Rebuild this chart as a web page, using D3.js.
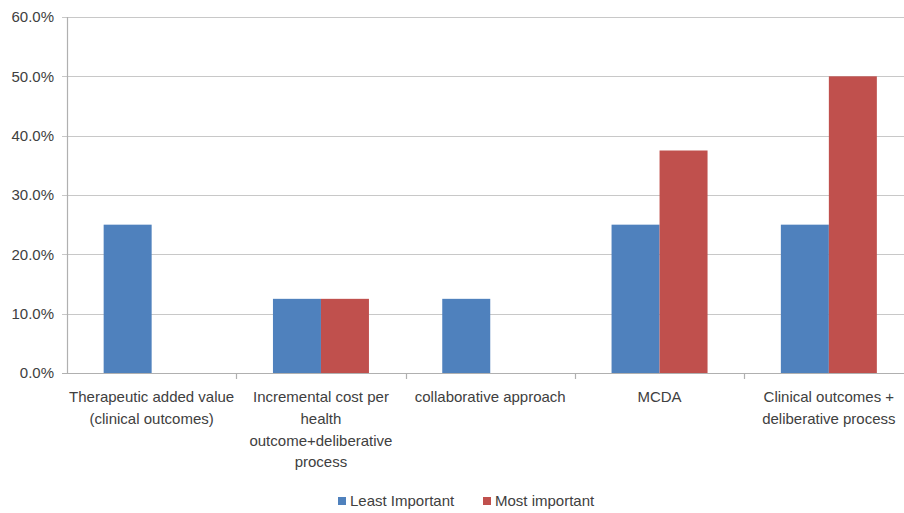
<!DOCTYPE html>
<html>
<head>
<meta charset="utf-8">
<script src="https://cdn.jsdelivr.net/npm/d3@7"></script>
<style>
  body { margin: 0; background: #fff; }
  svg { display: block; }
  text { font-family: "Liberation Sans", Arial, sans-serif; fill: #404040; }
</style>
</head>
<body>
<svg width="904" height="513"></svg>
<script>
// categories, split into the lines they wrap on
var categories = ["therapeutic", "incremental", "collaborative", "mcda", "clinical"];
var categoryLines = [
    ["Therapeutic added value", "(clinical outcomes)"],
    ["Incremental cost per", "health", "outcome+deliberative", "process"],
    ["collaborative approach"],
    ["MCDA"],
    ["Clinical outcomes +", "deliberative process"]
];
var seriesNames = ["Least Important", "Most important"];
var leastImportant = [25, 12.5, 12.5, 25, 25];
var mostImportant = [0, 12.5, 0, 37.5, 50];
var yTicks = [0, 10, 20, 30, 40, 50, 60];

function draw() {

    var colors = ["#4F81BD", "#C0504D"];

    var svg = d3.select("svg");
    var plotLeft = 67, plotRight = 913.5, plotTop = 17, plotBottom = 373;
    var fontSize = "15px";

    var x0 = d3.scaleBand().domain(categories).range([plotLeft, plotRight]).padding(0);
    var bw = x0.bandwidth();
    var gap = bw * 0.433;
    var x1 = d3.scaleBand().domain(seriesNames).range([gap / 2, bw - gap / 2]).padding(0);
    var y = d3.scaleLinear().domain([0, 60]).range([plotBottom, plotTop]);

    // gridlines
    svg.append("g")
        .selectAll("line")
        .data(yTicks)
        .enter().append("line")
        .attr("x1", plotLeft - 5)
        .attr("x2", plotRight)
        .attr("y1", function(d) { return Math.round(y(d)) + 0.5; })
        .attr("y2", function(d) { return Math.round(y(d)) + 0.5; })
        .attr("stroke", function(d) { return d === 0 ? "#b0b0b0" : "#c8c8c8"; })
        .attr("stroke-width", 1.2);

    // y labels
    svg.append("g")
        .selectAll("text")
        .data(yTicks)
        .enter().append("text")
        .attr("x", 54)
        .attr("y", function(d) { return y(d); })
        .attr("dy", "0.35em")
        .attr("text-anchor", "end")
        .style("font-size", fontSize)
        .text(function(d) { return d3.format(".1f")(d) + "%"; });

    // y axis line
    svg.append("line")
        .attr("x1", plotLeft + 0.5).attr("x2", plotLeft + 0.5)
        .attr("y1", plotTop).attr("y2", plotBottom + 1)
        .attr("stroke", "#b0b0b0").attr("stroke-width", 1.2);

    // category tick marks
    svg.append("g")
        .selectAll("line")
        .data(categories.slice(1))
        .enter().append("line")
        .attr("x1", function(d) { return Math.round(x0(d)) + 0.5; })
        .attr("x2", function(d) { return Math.round(x0(d)) + 0.5; })
        .attr("y1", plotBottom).attr("y2", plotBottom + 6)
        .attr("stroke", "#b0b0b0").attr("stroke-width", 1.2);

    // bars
    var rows = categories.map(function(c, i) {
        return { cat: c, values: [leastImportant[i], mostImportant[i]] };
    });

    var groups = svg.append("g")
        .selectAll("g")
        .data(rows)
        .enter().append("g")
        .attr("transform", function(d) { return "translate(" + x0(d.cat) + ",0)"; });

    groups.selectAll("rect")
        .data(function(d) {
            return d.values.map(function(v, i) { return { name: seriesNames[i], value: v, i: i }; });
        })
        .enter().append("rect")
        .attr("x", function(d) { return x1(d.name); })
        .attr("width", x1.bandwidth())
        .attr("y", function(d) { return y(d.value); })
        .attr("height", function(d) { return y(0) - y(d.value); })
        .attr("fill", function(d) { return colors[d.i]; });

    // x labels
    var labels = svg.append("g")
        .selectAll("text")
        .data(categories)
        .enter().append("text")
        .attr("x", function(d) { return x0(d) + bw / 2; })
        .attr("y", 397)
        .attr("text-anchor", "middle")
        .style("font-size", fontSize);

    labels.selectAll("tspan")
        .data(function(d, i) { return categoryLines[i]; })
        .enter().append("tspan")
        .attr("x", function() { return d3.select(this.parentNode).attr("x"); })
        .attr("dy", function(d, i) { return i === 0 ? "0.35em" : "21.7px"; })
        .text(function(d) { return d; });

    // legend
    var legendX = [338, 483];
    var legend = svg.append("g")
        .selectAll("g")
        .data(seriesNames)
        .enter().append("g")
        .attr("transform", function(d, i) { return "translate(" + legendX[i] + ",497)"; });

    legend.append("rect")
        .attr("width", 8).attr("height", 8)
        .attr("fill", function(d, i) { return colors[i]; });

    legend.append("text")
        .attr("x", 12)
        .attr("y", 4)
        .attr("dy", "0.35em")
        .style("font-size", fontSize)
        .text(function(d) { return d; });
} //draw

draw();
</script>
</body>
</html>
